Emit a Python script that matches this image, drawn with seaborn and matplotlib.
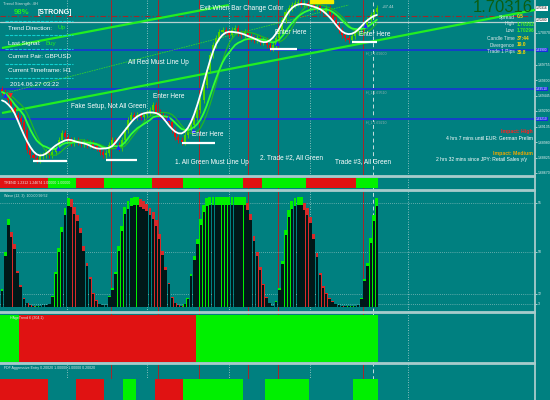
import numpy as np
import pandas as pd
import matplotlib
matplotlib.use("Agg")
import matplotlib.pyplot as plt
import seaborn as sns

# ---------------- data ----------------
closes = [1.6948, 1.6945, 1.6940, 1.6932, 1.6925, 1.6922, 1.6918, 1.6910, 1.6890, 1.6885,
          1.6882, 1.6880, 1.6884, 1.6885, 1.6888, 1.6885, 1.6888, 1.6892, 1.6900, 1.6907,
          1.6903, 1.6900, 1.6897, 1.6900, 1.6898, 1.6896, 1.6898, 1.6895, 1.6897, 1.6894,
          1.6892, 1.6888, 1.6885, 1.6887, 1.6895, 1.6900, 1.6895, 1.6892, 1.6900, 1.6910,
          1.6920, 1.6925, 1.6923, 1.6925, 1.6923, 1.6925, 1.6927, 1.6930, 1.6935, 1.6928,
          1.6925, 1.6923, 1.6922, 1.6918, 1.6910, 1.6903, 1.6900, 1.6898, 1.6905, 1.6910,
          1.6915, 1.6922, 1.6930, 1.6940, 1.6955, 1.6970, 1.6985, 1.6995, 1.7002, 1.7008,
          1.7010, 1.7008, 1.7005, 1.7010, 1.7012, 1.7007, 1.7005, 1.7008, 1.7004, 1.7002,
          1.7000, 1.7002, 1.6998, 1.7000, 1.6995, 1.6992, 1.6995, 1.7002, 1.7010, 1.7020,
          1.7028, 1.7032, 1.7035, 1.7037, 1.7038, 1.7036, 1.7037, 1.7035, 1.7036, 1.7032,
          1.7034, 1.7030, 1.7028, 1.7032, 1.7025, 1.7020, 1.7015, 1.7010, 1.7005, 1.7002,
          1.7000, 1.7004, 1.7008, 1.7010, 1.7012, 1.7015, 1.7020, 1.7025, 1.7028, 1.70316]

wave = [16, 50, 80, 68, 57, 33, 20, 8, 4, 2,
        1, 1, 1, 2, 2, 3, 10, 32, 54, 73,
        90, 99, 98, 91, 84, 72, 55, 40, 27, 13,
        6, 3, 2, 2, 10, 17, 32, 55, 74, 91,
        96, 99, 100, 100, 98, 96, 94, 90, 86, 79,
        66, 51, 36, 22, 9, 4, 2, 1, 3, 8,
        30, 46, 62, 80, 93, 99, 100, 100, 100, 100,
        100, 100, 100, 100, 100, 100, 100, 100, 95, 85,
        65, 50, 36, 21, 9, 4, 1, 5, 17, 42,
        70, 88, 96, 99, 100, 100, 95, 90, 82, 66,
        49, 31, 19, 13, 8, 5, 3, 2, 1, 1,
        1, 1, 1, 2, 8, 25, 40, 63, 84, 99]

trend_runs = [("R", 15), ("G", 9), ("R", 9), ("G", 15), ("R", 10),
              ("G", 19), ("R", 6), ("G", 14), ("R", 16), ("G", 7)]
age_runs = [("G", 6), ("R", 56), ("G", 58)]
agg_runs = [("R", 15), ("N", 9), ("R", 9), ("N", 6), ("G", 4), ("N", 6), ("R", 9),
            ("G", 19), ("N", 7), ("G", 14), ("N", 14), ("G", 8)]

blue_levels = [1.6990, 1.6951, 1.6921]
blue_names = ["H_1 1.69900", "H_1 1.69510", "H_1 1.69210"]
pivot_level = 1.7024
gray_level = 1.7018
red_vlines = [34.6, 49.5, 62.5, 78.1, 87.6, 114.6]
grid_vlines = [20.6, 46.0, 72.0, 97.8, 128.9]
dash_vline = [117.8]
# trendlines: (bar0, price0, bar1, price1)
trendlines_thick = [(0, 1.6992, 72, 1.7035), (0, 1.6927, 174, 1.7033)]
trendlines_thin = [(0, 1.6946, 110, 1.7035)]
entry_bars = [(9.8, 20.6, 1.6879), (33.0, 43.0, 1.6880), (57.0, 67.6, 1.6897),
              (85.0, 93.7, 1.6991), (111.0, 119.0, 1.6998)]
arrow_up = [(1, 1.6945), (17.8, 1.6892), (36.8, 1.6893), (52.7, 1.6922),
            (60.6, 1.6910), (87.3, 1.6997), (115.2, 1.7015)]
arrow_dn = [(2.5, 1.6945)]
price_ticks = [1.70070, 1.69755, 1.69600, 1.69445, 1.69290, 1.69135, 1.68980, 1.68825, 1.68670]
wave_levels = [95, 50, 12, 3]

# ---------------- style ----------------
sns.set_style("dark")
FONT = ["Liberation Sans", "DejaVu Sans"]
plt.rcParams["font.family"] = FONT
BG = "#008080"
BORDER = "#a9cccc"
LIME = "#00f000"
RED = "#e01212"
W, H = 550, 400
PX = 3.15  # pixels per bar

fig = plt.figure(figsize=(5.5, 4.0), dpi=100)
fig.patch.set_facecolor(BG)


def add_ax(y0, y1):
    ax = fig.add_axes([0, 1 - y1 / H, 535 / W, (y1 - y0) / H])
    ax.set_facecolor(BG)
    ax.set_xlim(-2 / PX, (535 - 2) / PX)
    ax.spines["left"].set_visible(False)
    for s in ["top", "bottom", "right"]:
        ax.spines[s].set_color(BORDER)
        ax.spines[s].set_linewidth(1.3)
    ax.set_xticks([])
    ax.yaxis.tick_right()
    ax.tick_params(axis="y", labelsize=2.5, colors="#e6f0f0", length=1.5, pad=0.8, width=0.5)
    ax.grid(False)
    for v in red_vlines:
        ax.axvline(v, color="#a8262a", lw=0.7, zorder=1)
    for v in grid_vlines:
        ax.axvline(v, color="#b8d4d4", lw=0.6, ls=(0, (1, 2)), zorder=1)
    for v in dash_vline:
        ax.axvline(v, color="#c8dede", lw=0.7, ls=(0, (4, 3)), zorder=1)
    return ax


def ftxt(x, y, s, **kw):
    kw.setdefault("va", "center")
    kw.setdefault("color", "white")
    return fig.text(x / W, 1 - y / H, s, **kw)


idx = np.arange(len(closes))
c = np.array(closes)

# ---------------- main price panel ----------------
ax = add_ax(0, 176)
ax.spines["top"].set_visible(False)
ax.set_ylim(1.7040 - 0.0176, 1.7040)
ax.set_yticks(price_ticks)
ax.set_yticklabels([f"{p:.5f}" for p in price_ticks])

ax.axhline(pivot_level, color="#9a2a2a", lw=0.8, ls=(0, (5, 2, 1, 2)), zorder=2)
ax.axhline(gray_level, color="#b8d0d0", lw=0.9, zorder=2)
for lv, nm in zip(blue_levels, blue_names):
    ax.axhline(lv, color="#1540c8", lw=1.4, zorder=2)
    ax.text(115.5, lv - 0.00035, nm, fontsize=2.6, color="#8fb0b0", va="center")
    ax.text(1.002, lv, f"{lv:.5f}", transform=ax.get_yaxis_transform(), fontsize=2.3,
            color="white", va="center", ha="left", clip_on=False,
            bbox=dict(boxstyle="square,pad=0.12", fc="#1a2ee0", ec="none"))
for lab_p, lab in [(1.70316, "1.70316"), (1.7020, "1.70200")]:
    ax.text(1.002, lab_p, lab, transform=ax.get_yaxis_transform(), fontsize=2.3,
            color="black", va="center", ha="left", clip_on=False,
            bbox=dict(boxstyle="square,pad=0.12", fc="white", ec="none"))

for (b0, p0, b1, p1) in trendlines_thick:
    ax.plot([b0, b1], [p0, p1], color="#22ee22", lw=1.6, zorder=3, solid_capstyle="butt")
for (b0, p0, b1, p1) in trendlines_thin:
    ax.plot([b0, b1], [p0, p1], color="#30d030", lw=0.6, ls=(0, (2, 1)), zorder=3)

# candles
opens = np.r_[c[0] + 0.0003, c[:-1]]
hi = np.maximum(opens, c) + 0.0003
lo = np.minimum(opens, c) - 0.0003
cols = np.where(c >= opens, "#4fd400", RED)
ax.vlines(idx, lo, hi, colors=cols, lw=0.6, zorder=4)
body = np.maximum(np.abs(c - opens), 0.00006)
ax.bar(idx, body, bottom=np.minimum(opens, c), width=0.65, color=cols, linewidth=0, zorder=5)

# moving averages
s = pd.Series(closes)
white = s.rolling(7, center=True, min_periods=1).mean().rolling(3, center=True, min_periods=1).mean()
green1 = s.ewm(span=10).mean()
green2 = s.rolling(7, min_periods=1).mean().rolling(3, min_periods=1).mean()
sns.lineplot(x=idx, y=green2.values, ax=ax, color="#22b822", lw=0.9, zorder=6, legend=False)
sns.lineplot(x=idx, y=green1.values, ax=ax, color="#33ff33", lw=1.3, zorder=6, legend=False)
sns.lineplot(x=idx, y=white.values, ax=ax, color="white", lw=1.3, zorder=7, legend=False)

for (b0, b1, p) in entry_bars:
    ax.plot([b0, b1], [p, p], color="white", lw=1.6, zorder=8, solid_capstyle="butt")
ax.scatter([a for a, _ in arrow_up], [b for _, b in arrow_up], marker="^", s=12,
           color="#1a2bff", zorder=9, linewidths=0)
ax.scatter([a for a, _ in arrow_dn], [b for _, b in arrow_dn], marker="v", s=12,
           color="#ff2020", zorder=9, linewidths=0)
ax.set_ylabel("")


# ---------------- TREND strip ----------------
def expand(runs):
    out = []
    for k, n in runs:
        out += [k] * n
    return out


cmap = {"R": RED, "G": LIME, "N": BG}
ax2 = add_ax(177, 190)
ax2.set_ylim(0, 1)
ax2.set_yticks([])
tcol = [cmap[k] for k in expand(trend_runs)]
ax2.bar(idx, 0.77, bottom=0.12, width=1.0, color=tcol, linewidth=0, zorder=2)
ax2.text(0.6, 0.5, "TREND 1.2312 1.24674 1.00000 1.00000", fontsize=2.6, color="#e8e8e8",
         va="center", zorder=5)

# ---------------- Wave panel ----------------
ax3 = add_ax(191, 312)
ax3.set_ylim(-4.6, 105.5)
ax3.set_yticks(wave_levels)
ax3.set_yticklabels([str(v) for v in wave_levels])
for lv in wave_levels:
    ax3.axhline(lv, color="#b8d4d4", lw=0.5, ls=(0, (1, 2)), zorder=1)
wv = np.array(wave)
rising = np.r_[True, wv[1:] >= wv[:-1]]
wcol = np.where(rising, LIME, "#d82a2a")
shift = np.where(rising, 0.08, -0.08)
ax3.bar(idx, wv, width=0.9, color=wcol, linewidth=0, zorder=2)
ax3.bar(idx + shift, wv * 0.93, width=0.76, color="#001818", linewidth=0, zorder=3)
ax3.text(0.6, 100.5, "Wave (12, 3)  100.00 99.52", fontsize=2.6, color="#e0e8e8", va="center")

# ---------------- AgeTrend panel ----------------
ax4 = add_ax(313, 363)
ax4.set_ylim(0, 1)
ax4.set_yticks([])
acol = [cmap[k] for k in expand(age_runs)]
ax4.bar(idx, 0.94, bottom=0.02, width=1.0, color=acol, linewidth=0, zorder=2)
ax4.text(2.5, 0.9, "HAgeTrend 6 (304,1)", fontsize=2.6, color="#e0e8e8", va="center", zorder=5)

# ---------------- Aggressive entry panel ----------------
ax5 = add_ax(364, 400)
ax5.spines["bottom"].set_visible(False)
ax5.set_ylim(0, 1)
ax5.set_yticks([])
gcol = [cmap[k] for k in expand(agg_runs)]
ax5.bar(idx, 0.58, bottom=0, width=1.0, color=gcol, linewidth=0, zorder=2)
ax5.text(0.6, 0.88, "FDF Aggressive Entry 0.20020 1.00000 1.00000 0.20020", fontsize=2.6,
         color="#e0e8e8", va="center", zorder=5)

# ---------------- text overlays ----------------
ftxt(3, 4, "Trend Strength: 4H", fontsize=3, color="#c8dcdc")
ftxt(14, 12, "98%", fontsize=5.6, color="#22ee22", fontweight="bold")
ftxt(38, 12, "[STRONG]", fontsize=5.0, color="white", fontweight="bold")
ftxt(8, 28, "Trend Direction:", fontsize=4.5)
ftxt(58, 28, "Up", fontsize=4.5, color="#22ee22")
ftxt(8, 43, "Last Signal:", fontsize=4.5)
ftxt(45, 43, "Buy", fontsize=4.5, color="#22ee22")
ftxt(8, 57, "Current Pair: GBPUSD", fontsize=4.5)
ftxt(8, 71, "Current Timeframe: H1", fontsize=4.5)
ftxt(10, 85, "2014.06.27 03:22", fontsize=4.5)
for yy in [21, 35, 49, 64, 78]:
    fig.add_artist(plt.Line2D([5 / W, 73 / W], [1 - yy / H, 1 - yy / H], color="#10d0d0",
                              lw=0.8, ls=(0, (3, 1))))
fig.add_artist(plt.Rectangle((310 / W, 1 - 2.5 / H), 23 / W, 2.5 / H, color="#f5f000"))

AN = 4.7
ftxt(242, 9, "Exit When Bar Change Color", fontsize=AN, ha="center")
ftxt(158, 62, "All Red Must Line Up", fontsize=AN, ha="center")
ftxt(109, 106, "Fake Setup, Not All Green", fontsize=AN, ha="center")
ftxt(169, 96, "Enter Here", fontsize=AN, ha="center")
ftxt(208, 135, "Enter Here", fontsize=AN, ha="center")
ftxt(291, 33, "Enter Here", fontsize=AN, ha="center")
ftxt(375, 35, "Enter Here", fontsize=AN, ha="center")
ftxt(212, 162, "1. All Green Must Line Up", fontsize=AN, ha="center")
ftxt(292, 158, "2. Trade #2, All Green", fontsize=AN, ha="center")
ftxt(363, 162, "Trade #3, All Green", fontsize=AN, ha="center")
ftxt(382, 7, "+37.44", fontsize=3.0, color="#c8d8d8")

ftxt(533, 7, "1.70316", fontsize=12, color="#0b5e12", ha="right")
info_rows = [("Spread", "0.5", "#ffd700", 17), ("High", "1.70362", "#44ee22", 24),
             ("Low", "1.70296", "#44ee22", 31), ("Candle Time", "37:44", "#ffd700", 38),
             ("Divergence", "19.0", "#ffd700", 45), ("Trade 1 Pips", "39.8", "#ffd700", 52)]
for lab, val, vc, yy in info_rows:
    ftxt(515, yy, lab, fontsize=3.5, color="#d8e6e6", ha="right")
    ftxt(517, yy, val, fontsize=3.5, color=vc, ha="left", fontweight="bold")
ftxt(533, 132, "Impact: High", fontsize=3.7, color="#ff2020", ha="right", fontweight="bold")
ftxt(533, 139, "4 hrs 7 mins until EUR: German Prelim", fontsize=3.6, ha="right")
ftxt(533, 153, "Impact: Medium", fontsize=3.7, color="#f0a800", ha="right", fontweight="bold")
ftxt(527, 159, "2 hrs 32 mins since JPY: Retail Sales y/y", fontsize=3.6, ha="right")

fig.savefig("out.png", dpi=100, facecolor=BG)
